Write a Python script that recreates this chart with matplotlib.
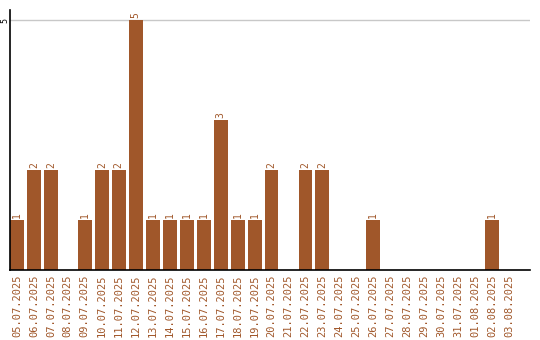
import matplotlib.pyplot as plt

dates = ["05.07.2025", "06.07.2025", "07.07.2025", "08.07.2025", "09.07.2025",
         "10.07.2025", "11.07.2025", "12.07.2025", "13.07.2025", "14.07.2025",
         "15.07.2025", "16.07.2025", "17.07.2025", "18.07.2025", "19.07.2025",
         "20.07.2025", "21.07.2025", "22.07.2025", "23.07.2025", "24.07.2025",
         "25.07.2025", "26.07.2025", "27.07.2025", "28.07.2025", "29.07.2025",
         "30.07.2025", "31.07.2025", "01.08.2025", "02.08.2025", "03.08.2025"]
counts = [1, 2, 2, 0, 1, 2, 2, 5, 1, 1, 1, 1, 3, 1, 1,
          2, 0, 2, 2, 0, 0, 1, 0, 0, 0, 0, 0, 0, 1, 0]

color = "#A0572A"
mono = "DejaVu Sans Mono"

fig = plt.figure(figsize=(5.4, 3.4), dpi=100)
ax = fig.add_axes([10 / 540, 70 / 340, 520 / 540, 260 / 340])

x = list(range(len(dates)))
ax.bar(x, counts, width=0.82, color=color, zorder=2)
for xi, c in zip(x, counts):
    if c > 0:
        ax.text(xi, c + 0.04, str(c), rotation=90, ha="center", va="bottom",
                color=color, fontsize=7, family=mono)

ax.set_xlim(-0.41, 30.23)
ax.set_ylim(0, 5.2)
ax.set_yticks([5])
ax.set_yticklabels(["5"], rotation=90, va="center", family=mono, fontsize=6)
ax.yaxis.grid(True, color="#c8c8c8", linewidth=1, zorder=0)
ax.tick_params(axis="y", length=0, pad=0.5)

ax.set_xticks(x)
ax.set_xticklabels(dates, rotation=90, color=color, family=mono, fontsize=7.5)
ax.tick_params(axis="x", length=0, pad=3)

for s in ["top", "right"]:
    ax.spines[s].set_visible(False)
ax.spines["left"].set_linewidth(1.2)
ax.spines["bottom"].set_linewidth(1.2)

fig.savefig("out.png")
